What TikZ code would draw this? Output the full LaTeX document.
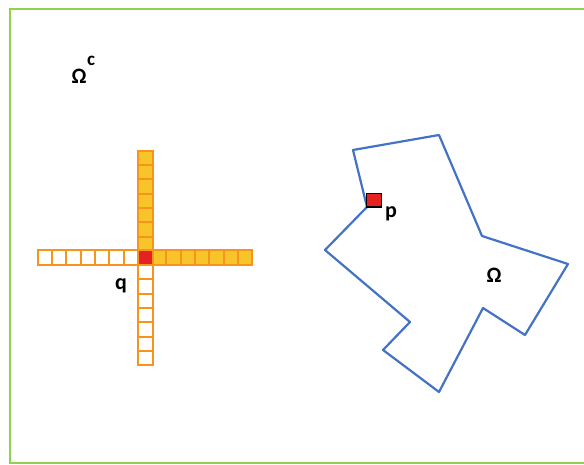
\documentclass[tikz,border=0pt]{standalone}
\usepackage{fontspec}
\setmainfont{Carlito}
\usetikzlibrary{positioning}
\definecolor{frame}{HTML}{92D050}
\definecolor{cellline}{HTML}{F7941D}
\definecolor{cellfill}{HTML}{F7C52A}
\definecolor{seed}{HTML}{E52222}
\definecolor{boundary}{HTML}{4472C4}

\begin{document}
\begin{tikzpicture}[x=1pt, y=-1pt, font=\fontsize{22}{26}\selectfont\bfseries]
\tikzset{cell/.style={draw=cellline, line width=2pt},
  lbl/.style={inner sep=0pt}}
\useasboundingbox (0,0) rectangle (584,465);
\draw[frame, line width=2.6pt] (10,9) rectangle (620,463);
% domain boundary
\draw[boundary, line width=2.2pt, line join=round] (353,150) -- (439,135) -- (482,236) -- (568,264)
  -- (525,335) -- (483,308) -- (439,392) -- (383,350) -- (410,322)
  -- (325,250) -- (367,207) -- cycle;
% cross of cells round q
\foreach \i in {-7,...,-1} {\draw[cell, fill=white] ({145+\i*14.3-7.15},250.5) rectangle +(14.3,15);}
\foreach \i in {1,...,7} {\draw[cell, fill=cellfill] ({145+\i*14.3-7.15},250.5) rectangle +(14.3,15);}
\foreach \j in {-7,...,-1} {\draw[cell, fill=cellfill] (137.5,{258+\j*14.3-7.15}) rectangle +(15,14.3);}
\foreach \j in {1,...,7} {\draw[cell, fill=white] (137.5,{258+\j*14.3-7.15}) rectangle +(15,14.3);}
\draw[cell, fill=seed] (137.5,250.5) rectangle +(15,15);
% point p on the boundary
\draw[black, line width=1.6pt, fill=seed] (366.5,193.5) rectangle (381.5,207);
\node[lbl] (q) at (121,286) {q};
\node[lbl] (p) at (391,214) {p};
\node[lbl] (om) at (494,275) {Ω};
\node[lbl] (omc) at (79,76) {Ω};
\node[lbl, font=\fontsize{19}{22}\selectfont\bfseries] (c) at (91,61) {c};
\end{tikzpicture}
\end{document}
